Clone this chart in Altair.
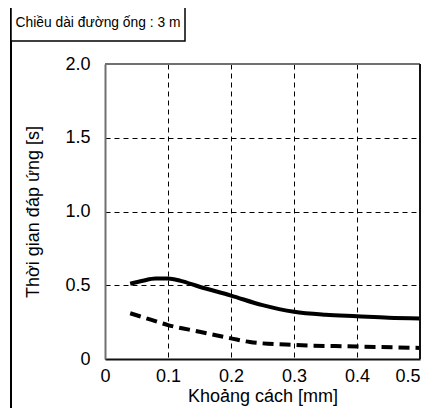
import altair as alt
import pandas as pd

# Solid curve
x_solid = [0.04, 0.06, 0.08, 0.10, 0.12, 0.15, 0.20, 0.25, 0.30, 0.35, 0.40, 0.45, 0.50]
y_solid = [0.51, 0.53, 0.545, 0.545, 0.53, 0.49, 0.43, 0.365, 0.32, 0.30, 0.29, 0.28, 0.275]
# Dashed curve
x_dash = [0.04, 0.07, 0.10, 0.15, 0.20, 0.23, 0.30, 0.40, 0.50]
y_dash = [0.31, 0.27, 0.23, 0.185, 0.14, 0.115, 0.095, 0.085, 0.075]

x_ticks = [0, 0.1, 0.2, 0.3, 0.4, 0.5]
y_ticks = [0, 0.5, 1.0, 1.5, 2.0]

title_text = "Chiều dài đường ống : 3 m"
x_title = "Khoảng cách [mm]"
y_title = "Thời gian đáp ứng [s]"

FONT = "Liberation Sans"
W, H = 315, 295

solid_df = pd.DataFrame({"x": x_solid, "y": y_solid})
dash_df = pd.DataFrame({"x": x_dash, "y": y_dash})
one = pd.DataFrame({"a": [0]})

label_expr = "datum.value == 0 ? '0' : format(datum.value, '.1f')"

x_enc = alt.X("x:Q", scale=alt.Scale(domain=[0, 0.5], nice=False),
              axis=alt.Axis(values=x_ticks, title=x_title, labelExpr=label_expr,
                            labelAlign=alt.ExprRef(expr="datum.value >= 0.5 ? 'right' : 'center'"),
                            grid=True, gridDash=[5, 4], gridColor="black", gridWidth=1,
                            ticks=False, domainColor="#111111", domainWidth=2,
                            labelFontSize=18, titleFontSize=18, labelPadding=8,
                            titlePadding=2, labelColor="black", titleColor="black",
                            titleFontWeight="normal", labelFont=FONT, titleFont=FONT,
                            labelFlush=False))
y_enc = alt.Y("y:Q", scale=alt.Scale(domain=[0, 2], nice=False),
              axis=alt.Axis(values=y_ticks, title=y_title, labelExpr=label_expr,
                            grid=True, gridDash=[5, 4], gridColor="black", gridWidth=1,
                            ticks=False, domainColor="#707070", domainWidth=2,
                            labelFontSize=18, titleFontSize=18, labelPadding=15,
                            titlePadding=22, labelColor="black", titleColor="black",
                            titleFontWeight="normal", labelFont=FONT, titleFont=FONT,
                            labelFlush=False))

solid = alt.Chart(solid_df).mark_line(color="black", strokeWidth=4, interpolate="monotone").encode(
    x=x_enc, y=y_enc)
dashed = alt.Chart(dash_df).mark_line(color="black", strokeWidth=4, strokeDash=[11, 6],
                                      interpolate="monotone").encode(x="x:Q", y="y:Q")

top_border = alt.Chart(one).mark_rule(color="#707070", strokeWidth=2).encode(
    x=alt.value(0), x2=alt.value(W), y=alt.value(0))
right_border = alt.Chart(one).mark_rule(color="#111111", strokeWidth=2).encode(
    x=alt.value(W), y=alt.value(0), y2=alt.value(H))

frame_left = alt.Chart(one).mark_rule(color="black", strokeWidth=2).encode(
    x=alt.value(-94), y=alt.value(-60), y2=alt.value(400))
frame_top = alt.Chart(one).mark_rule(color="black", strokeWidth=2).encode(
    x=alt.value(-94), x2=alt.value(340), y=alt.value(-60))
title_box = alt.Chart(one).mark_rect(fill="white", stroke="black", strokeWidth=1.5).encode(
    x=alt.value(-94), x2=alt.value(80), y=alt.value(-60), y2=alt.value(-23))
title_mark = alt.Chart(one).mark_text(text=title_text, font=FONT, fontSize=13.8,
                                      align="center", baseline="middle", color="black").encode(
    x=alt.value(-7), y=alt.value(-41))

chart = alt.layer(solid, dashed, top_border, right_border, frame_left, frame_top,
                  title_box, title_mark).properties(
    width=W, height=H,
    autosize=alt.AutoSizeParams(type="none"),
    padding={"left": 97, "top": 56, "right": 2, "bottom": 49},
).configure_view(fill="#e8e8e8", stroke=None).configure(background="white")

chart.save("out.html", embed_options={"renderer": "svg", "actions": False})
